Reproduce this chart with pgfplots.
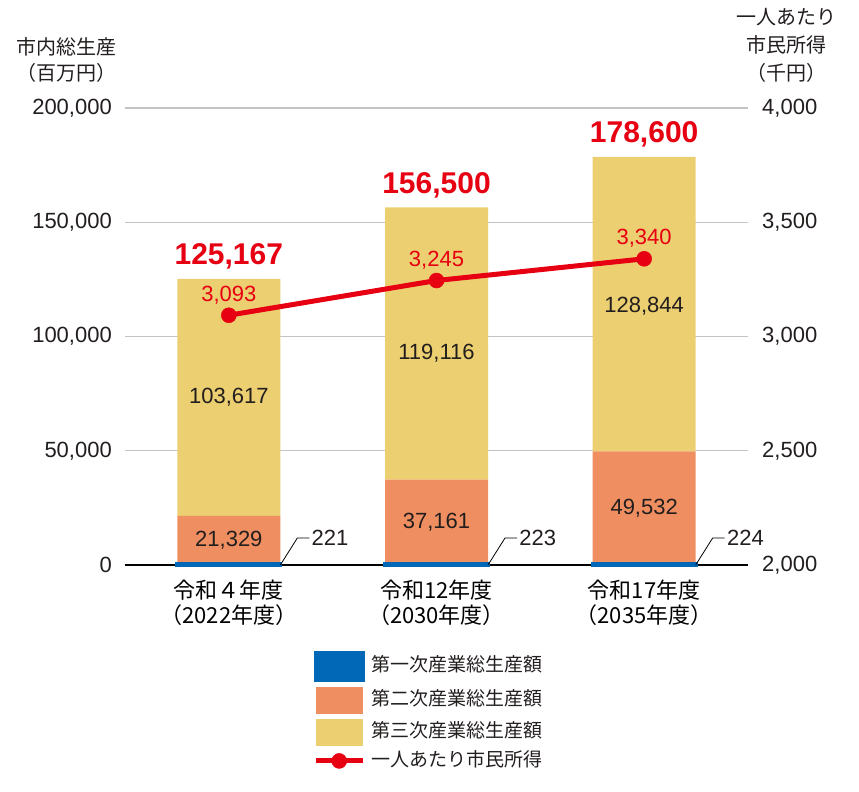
\documentclass[border=0pt]{standalone}
\usepackage{pgfplots}
\pgfplotsset{compat=1.18}
\usepackage{fontspec}
\setmainfont{Liberation Sans}
\newfontfamily\jp{Noto Sans CJK JP}
\definecolor{cblue}{RGB}{0,104,183}
\definecolor{corange}{RGB}{239,143,97}
\definecolor{cyellow}{RGB}{236,207,112}
\definecolor{cred}{RGB}{230,0,18}
\definecolor{ctext}{RGB}{35,30,30}
\definecolor{cgrid}{RGB}{195,195,195}
\pgfplotsset{
  barleg/.style={legend image code/.code={\fill[##1] (0pt,-15pt) rectangle (47pt,12pt); \path (53pt,0pt);}},
  lineleg/.style={legend image code/.code={\draw[##1, sharp plot, mark repeat=2, mark phase=2] plot coordinates {(0pt,-1.5pt) (23.5pt,-1.5pt) (47pt,-1.5pt)}; \path (53pt,0pt);}}
}
\tikzset{
  seglab/.style={font=\fontsize{22}{26}\selectfont, text=ctext},
  totlab/.style={anchor=base, font=\bfseries\fontsize{30}{30}\selectfont, text=cred}
}
\begin{document}
\begin{tikzpicture}
\path[use as bounding box] (-125pt,-227pt) rectangle (734pt,565pt);
\begin{axis}[
  at={(0pt,0pt)}, anchor=south west,
  scale only axis, width=623pt, height=457pt,
  xmin=-0.5, xmax=2.5, ymin=0, ymax=200000,
  ybar stacked, bar width=103pt,
  xtick={0,1,2},
  xticklabels={{令和４年度\\（2022年度）},{令和12年度\\（2030年度）},{令和17年度\\（2035年度）}},
  xticklabel style={align=center, font=\jp\fontsize{22}{25}\selectfont, text=black, inner sep=0pt, yshift=-15pt},
  ytick={0,50000,100000,150000,200000},
  scaled y ticks=false,
  yticklabel style={font=\fontsize{22}{26}\selectfont, text=ctext, inner sep=0pt, xshift=-13pt},
  ymajorgrids, grid style={cgrid, line width=1.3pt},
  axis x line*=bottom, axis y line*=left,
  x axis line style={black, line width=1.3pt, -},
  y axis line style={draw=none},
  major tick length=0pt,
  clip=false,
  legend cell align=left,
  legend style={at={(0.3018,-0.187)}, anchor=north west, draw=none, fill=none, inner sep=0pt,
     font=\jp\fontsize{19}{22}\selectfont, text=ctext, row sep=5pt, nodes={inner sep=0pt}},
  /pgf/number format/.cd, fixed, 1000 sep={,}, assume math mode=true
]
\addplot[fill=cblue, draw=cblue, line width=4pt, barleg] coordinates {(0,221) (1,223) (2,224)};
\addlegendentry{第一次産業総生産額}
\addplot[fill=corange, draw=none, barleg] coordinates {(0,21329) (1,37161) (2,49532)};
\addlegendentry{第二次産業総生産額}
\addplot[fill=cyellow, draw=none, barleg] coordinates {(0,103617) (1,119116) (2,128844)};
\addlegendentry{第三次産業総生産額}
\addlegendimage{cred, line width=5pt, mark=*, mark size=7.5pt, mark options={line width=0.5pt}, lineleg}
\addlegendentry{一人あたり市民所得}
\end{axis}
\begin{axis}[
  at={(0pt,0pt)}, anchor=south west,
  scale only axis, width=623pt, height=457pt,
  xmin=-0.5, xmax=2.5, ymin=2000, ymax=4000,
  axis x line=none, axis y line*=right,
  y axis line style={draw=none},
  major tick length=0pt,
  ytick={2000,2500,3000,3500,4000},
  scaled y ticks=false,
  yticklabel style={font=\fontsize{22}{26}\selectfont, text=ctext, inner sep=0pt, xshift=14pt},
  clip=false,
  /pgf/number format/.cd, fixed, 1000 sep={,}, assume math mode=true
]
\addplot[cred, line width=5pt, mark=*, mark size=7.5pt, mark options={line width=0.5pt}] coordinates {(0,3093) (1,3245) (2,3340)};
\node[anchor=base, font=\fontsize{22}{26}\selectfont, text=cred] at ([yshift=14pt]axis cs:0,3093) {3,093};
\node[anchor=base, font=\fontsize{22}{26}\selectfont, text=cred] at ([yshift=14pt]axis cs:1,3245) {3,245};
\node[anchor=base, font=\fontsize{22}{26}\selectfont, text=cred] at ([yshift=14pt]axis cs:2,3340) {3,340};
% bar labels (left-axis values v placed at 2000 + v/100 on this axis)
\node[seglab] at (axis cs:0,2108.85) {21,329};
\node[seglab] at (axis cs:0,2733.58) {103,617};
\node[seglab] at (axis cs:1,2188) {37,161};
\node[seglab] at (axis cs:1,2926) {119,116};
\node[seglab] at (axis cs:2,2249.9) {49,532};
\node[seglab] at (axis cs:2,3133) {128,844};
\node[totlab] at ([yshift=14pt]axis cs:0,3251.67) {125,167};
\node[totlab] at ([yshift=14pt]axis cs:1,3565) {156,500};
\node[totlab] at ([yshift=14pt]axis cs:2,3786) {178,600};
\draw[black, line width=0.8pt] ([xshift=51.5pt]axis cs:0,2000) -- ++(17pt,27pt) -- ++(12pt,0pt)
    node[right, inner sep=2pt, seglab] {221};
\draw[black, line width=0.8pt] ([xshift=51.5pt]axis cs:1,2000) -- ++(17pt,27pt) -- ++(12pt,0pt)
    node[right, inner sep=2pt, seglab] {223};
\draw[black, line width=0.8pt] ([xshift=51.5pt]axis cs:2,2000) -- ++(17pt,27pt) -- ++(12pt,0pt)
    node[right, inner sep=2pt, seglab] {224};
\end{axis}
\node[font=\jp\fontsize{20}{26}\selectfont, text=ctext, align=center] at (-58pt,505pt) {市内総生産\\（百万円）};
\node[font=\jp\fontsize{20}{28}\selectfont, text=ctext, align=center] at (661pt,520pt) {一人あたり\\市民所得\\（千円）};
\end{tikzpicture}
\end{document}
